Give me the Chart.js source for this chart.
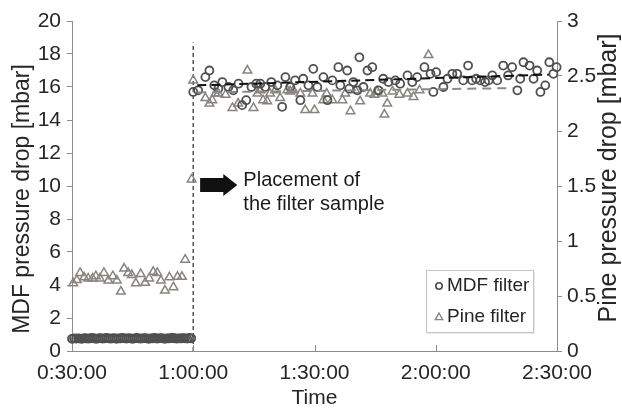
<!DOCTYPE html>
<html><head><meta charset="utf-8">
<script src="https://cdn.jsdelivr.net/npm/chart.js@4.4.1/dist/chart.umd.min.js"></script>
<style>html,body{margin:0;padding:0;background:#fff}#wrap{width:622px;height:409px;position:relative}</style>
</head><body><div id="wrap"><canvas id="c" width="622" height="409"></canvas></div>
<script>
// ---- data (time in minutes) ----
const xTickValues = [30, 60, 90, 120, 150];
const xTickLabels = ['0:30:00', '1:00:00', '1:30:00', '2:00:00', '2:30:00'];
const yLeftTicks = [0, 2, 4, 6, 8, 10, 12, 14, 16, 18, 20];
const yRightTicks = [0, 0.5, 1, 1.5, 2, 2.5, 3];

const mdfTime = [30,30.5,31,31.5,32,32.5,33,33.5,34,34.5,35,35.5,36,36.5,37,37.5,38,38.5,39,39.5,
  40,40.5,41,41.5,42,42.5,43,43.5,44,44.5,45,45.5,46,46.5,47,47.5,48,48.5,49,49.5,
  50,50.5,51,51.5,52,52.5,53,53.5,54,54.5,55,55.5,56,56.5,57,57.5,58,58.5,59,59.5,
  60.0,61.2,63.0,64.0,65.2,66.2,67.2,68.7,69.9,71.2,72.1,73.1,74.4,75.6,76.6,77.8,79.3,80.8,82.0,82.8,
  84.0,85.2,86.5,87.2,88.5,89.7,90.7,92.2,93.2,94.4,95.9,96.4,98.1,98.6,99.6,100.6,101.1,102.1,103.1,104.3,
  105.8,107.0,108.3,110.0,111.2,113.0,114.2,115.4,117.2,118.7,119.4,120.1,121.9,122.9,124.1,125.3,126.8,128.0,129.0,130.0,
  131.0,132.2,133.1,134.0,135.2,136.7,137.9,138.9,140.2,140.9,141.7,143.2,144.2,145.1,145.9,147.1,148.1,149.1,149.9];
const mdfDrop = [0.74,0.76,0.75,0.77,0.75,0.74,0.78,0.76,0.75,0.77,0.80,0.76,0.74,0.77,0.78,0.75,0.76,0.79,0.77,0.75,
  0.76,0.78,0.74,0.77,0.76,0.80,0.77,0.75,0.78,0.76,0.74,0.77,0.79,0.76,0.75,0.77,0.78,0.76,0.74,0.77,
  0.76,0.79,0.75,0.77,0.78,0.76,0.74,0.77,0.76,0.78,0.80,0.76,0.75,0.77,0.76,0.78,0.77,0.75,0.79,0.77,
  15.7,15.8,16.6,17.0,16.1,15.9,16.3,16.0,15.8,16.2,14.9,15.2,16.0,16.2,16.2,16.0,16.3,16.1,14.8,16.6,
  16.0,16.4,15.2,16.5,16.1,17.1,16.0,16.6,15.2,16.4,17.2,16.1,17.0,15.9,16.3,15.8,17.8,16.0,17.0,17.2,
  15.8,16.5,16.3,16.4,16.2,16.7,16.3,16.6,17.2,16.8,15.7,16.9,16.0,16.5,16.8,16.8,16.4,17.3,16.4,16.5,
  16.4,16.3,16.4,16.7,16.4,17.3,16.7,17.2,15.8,16.5,17.5,17.3,16.5,17.0,15.7,16.1,17.5,16.8,17.2];

const pineTime = [30.3,31.2,32.0,33.0,34.0,35.1,35.9,36.9,37.9,39.0,40.1,41.1,42.1,42.9,43.9,44.8,45.8,47.0,48.1,49.1,
  50.1,51.1,52.0,53.0,54.1,55.1,56.1,57.2,58.0,59.6,
  60.0,63.0,64.0,64.7,65.5,66.2,68.0,69.7,71.1,73.4,74.9,75.9,76.6,77.3,78.3,79.0,80.3,81.5,83.3,84.0,
  84.8,86.5,87.7,89.5,90.0,92.2,93.0,94.4,96.9,97.6,98.9,100.1,101.3,103.8,104.8,105.5,106.8,107.3,108.0,109.3,
  111.0,113.0,114.5,116.0,118.2];
const pineDrop = [0.615,0.645,0.71,0.67,0.66,0.66,0.68,0.66,0.71,0.64,0.68,0.64,0.54,0.75,0.71,0.69,0.615,0.70,0.62,0.66,
  0.72,0.71,0.64,0.55,0.67,0.58,0.675,0.675,0.83,1.56,
  2.46,2.30,2.25,2.28,2.34,2.34,2.33,2.21,2.25,2.55,2.21,2.34,2.37,2.28,2.27,2.34,2.37,2.30,2.37,2.36,
  2.37,2.34,2.19,2.34,2.19,2.28,2.34,2.28,2.28,2.34,2.18,2.37,2.27,2.34,2.33,2.36,2.34,2.15,2.25,2.36,
  2.33,2.34,2.31,2.37,2.69];

const mdfTrendTime = [61, 148];
const mdfTrend = [16.1, 16.75];
const pineTrendTime = [61, 139];
const pineTrend = [2.35, 2.39];
const placementTime = [60, 60];
const placementLine = [0, 18.7];

const seriesNames = ['MDF filter', 'Pine filter'];
const annotationLines = ['Placement of', 'the filter sample'];
const yLeftTitle = 'MDF pressure drop [mbar]';
const yRightTitle = 'Pine pressure drop [mbar]';
const xTitle = 'Time';

// ---- styling ----
const FONT = "'Liberation Sans', Arial, sans-serif";
const TXT = '#262626';
const AX = '#8c8c8c';
const pts = (xs, ys) => xs.map((x, i) => ({x: x, y: ys[i]}));

const extras = {
  id: 'extras',
  afterDraw(chart) {
    const ctx = chart.ctx, ca = chart.chartArea;
    const sx = chart.scales.x, sy = chart.scales.y;
    ctx.save();
    // inside tick marks on time axis
    ctx.strokeStyle = AX; ctx.lineWidth = 1;
    xTickValues.slice(1, -1).forEach(v => {
      const px = Math.round(sx.getPixelForValue(v)) + 0.5;
      ctx.beginPath(); ctx.moveTo(px, ca.bottom); ctx.lineTo(px, ca.bottom - 6); ctx.stroke();
    });
    // arrow annotation
    const ax0 = sx.getPixelForValue(61.7), ax1 = sx.getPixelForValue(70.9);
    const ay = sy.getPixelForValue(10.06);
    const headLen = 14, shaftH = 7, headH = 11;
    ctx.fillStyle = '#111';
    ctx.beginPath();
    ctx.moveTo(ax0, ay - shaftH); ctx.lineTo(ax1 - headLen, ay - shaftH); ctx.lineTo(ax1 - headLen, ay - headH);
    ctx.lineTo(ax1, ay); ctx.lineTo(ax1 - headLen, ay + headH); ctx.lineTo(ax1 - headLen, ay + shaftH);
    ctx.lineTo(ax0, ay + shaftH); ctx.closePath(); ctx.fill();
    ctx.font = '20px ' + FONT; ctx.fillStyle = '#1a1a1a'; ctx.textBaseline = 'middle'; ctx.textAlign = 'left';
    const tx = sx.getPixelForValue(72.4), ty = sy.getPixelForValue(10.36);
    ctx.fillText(annotationLines[0], tx, ty);
    ctx.fillText(annotationLines[1], tx, ty + 24);
    // legend box
    const lw = 107, lh = 62;
    const lx = ca.right - 24 - lw, ly = ca.bottom - 19 - lh;
    ctx.fillStyle = 'rgba(0,0,0,0.08)'; ctx.fillRect(lx + 2, ly + 2, lw, lh);
    ctx.fillStyle = '#fff'; ctx.fillRect(lx, ly, lw, lh);
    ctx.strokeStyle = '#c4c4c4'; ctx.lineWidth = 1; ctx.strokeRect(lx + 0.5, ly + 0.5, lw, lh);
    const mx = lx + 13;
    const r1 = ly + 16, r2 = ly + 47;
    ctx.strokeStyle = '#4a4a4a'; ctx.lineWidth = 1.6;
    ctx.beginPath(); ctx.arc(mx, r1, 3.2, 0, Math.PI * 2); ctx.stroke();
    ctx.strokeStyle = '#8a847e'; ctx.lineWidth = 1.4;
    ctx.beginPath(); ctx.moveTo(mx, r2 - 4); ctx.lineTo(mx + 3.7, r2 + 2.6); ctx.lineTo(mx - 3.7, r2 + 2.6); ctx.closePath(); ctx.stroke();
    ctx.font = '19px ' + FONT; ctx.fillStyle = TXT; ctx.textBaseline = 'middle';
    ctx.fillText(seriesNames[0], lx + 21, r1);
    ctx.fillText(seriesNames[1], lx + 21, r2);
    // y titles (both read bottom-to-top)
    ctx.fillStyle = TXT; ctx.textAlign = 'center'; ctx.textBaseline = 'middle';
    ctx.font = '23px ' + FONT;
    ctx.save(); ctx.translate(23, 199); ctx.rotate(-Math.PI / 2); ctx.fillText(yLeftTitle, 0, 0); ctx.restore();
    ctx.font = '25px ' + FONT;
    ctx.save(); ctx.translate(609, 178); ctx.rotate(-Math.PI / 2); ctx.fillText(yRightTitle, 0, 0); ctx.restore();
    ctx.restore();
  }
};

const tickFont = {family: FONT, size: 21};

new Chart(document.getElementById('c'), {
  type: 'scatter',
  data: {
    datasets: [
      {label: 'MDF trend', type: 'line', data: pts(mdfTrendTime, mdfTrend), yAxisID: 'y', order: 0,
       borderColor: '#111', borderWidth: 2, borderDash: [9, 5], pointRadius: 0, fill: false},
      {label: 'Pine trend', type: 'line', data: pts(pineTrendTime, pineTrend), yAxisID: 'yPine', order: 0,
       borderColor: '#8a8a8a', borderWidth: 2, borderDash: [9, 6], pointRadius: 0, fill: false},
      {label: seriesNames[0], data: pts(mdfTime, mdfDrop), yAxisID: 'y', order: 1, clip: false,
       pointStyle: 'circle', pointRadius: 4, pointBorderWidth: 1.8,
       pointBorderColor: '#505050', pointBackgroundColor: 'rgba(255,255,255,0)'},
      {label: seriesNames[1], data: pts(pineTime, pineDrop), yAxisID: 'yPine', order: 2, clip: false,
       pointStyle: 'triangle', pointRadius: 5, pointBorderWidth: 1.5,
       pointBorderColor: '#8a847e', pointBackgroundColor: 'rgba(255,255,255,0)'},
      {label: 'placement', type: 'line', data: pts(placementTime, placementLine), yAxisID: 'y', order: 3,
       borderColor: '#555', borderWidth: 1.5, borderDash: [4, 3], pointRadius: 0, fill: false}
    ]
  },
  options: {
    responsive: false, animation: false, devicePixelRatio: 1,
    layout: {padding: {top: 21, left: 0, right: 0, bottom: 0}},
    plugins: {legend: {display: false}, tooltip: {enabled: false}},
    scales: {
      x: {
        type: 'linear', position: 'bottom', min: 30, max: 150,
        afterBuildTicks: s => { s.ticks = xTickValues.map(v => ({value: v})); },
        afterFit: s => { s.height = 58; },
        ticks: {font: tickFont, color: TXT, padding: 10, maxRotation: 0,
                callback: v => xTickLabels[xTickValues.indexOf(v)]},
        grid: {drawOnChartArea: false, drawTicks: false, color: AX},
        border: {display: true, color: AX, width: 1},
        title: {display: true, text: xTitle, font: {family: FONT, size: 21, lineHeight: 1.0}, color: TXT, padding: {top: 0, bottom: 0}}
      },
      y: {
        position: 'left', min: 0, max: 20,
        afterBuildTicks: s => { s.ticks = yLeftTicks.map(v => ({value: v})); },
        afterFit: s => { s.width = 72; },
        ticks: {font: tickFont, color: TXT, padding: 6, callback: v => String(v)},
        grid: {drawOnChartArea: false, drawTicks: true, tickLength: 5, color: AX},
        border: {display: true, color: AX, width: 1}
      },
      yPine: {
        position: 'right', min: 0, max: 3,
        afterBuildTicks: s => { s.ticks = yRightTicks.map(v => ({value: v})); },
        afterFit: s => { s.width = 65; },
        ticks: {font: tickFont, color: TXT, padding: 5, callback: v => String(v)},
        grid: {drawOnChartArea: false, drawTicks: true, tickLength: 5, color: AX},
        border: {display: true, color: AX, width: 1}
      }
    }
  },
  plugins: [extras]
});
</script>
</body></html>
